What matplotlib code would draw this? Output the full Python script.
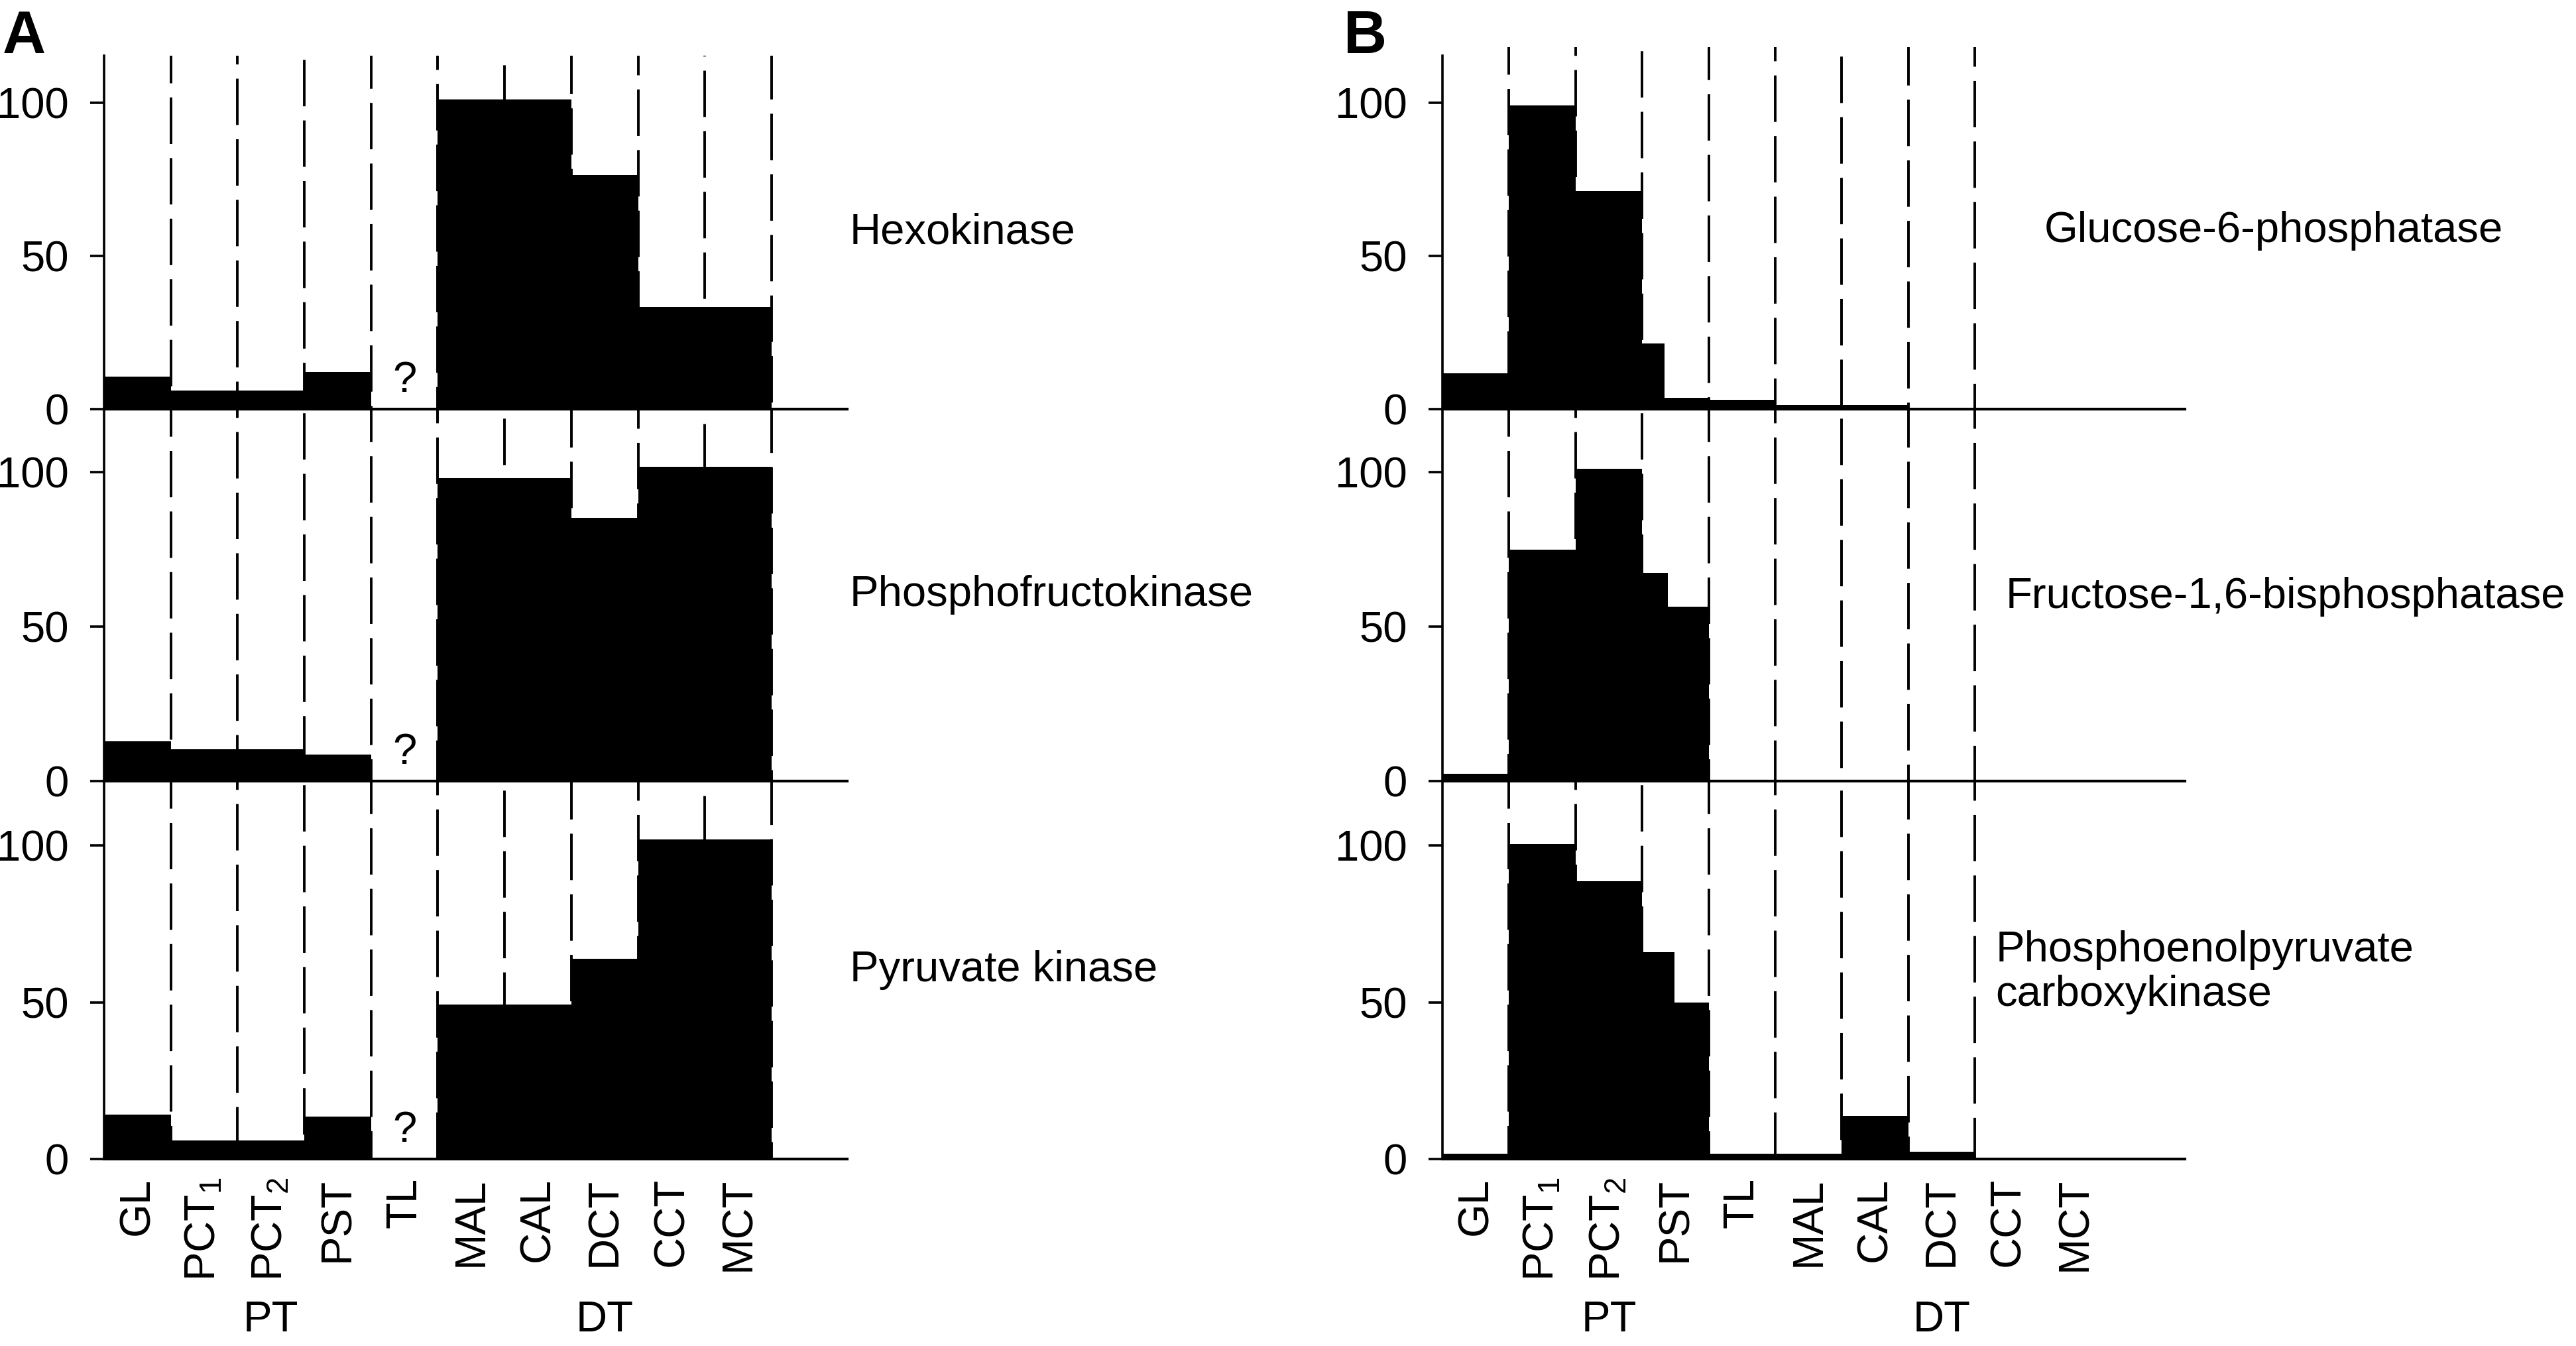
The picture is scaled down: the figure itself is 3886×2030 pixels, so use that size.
import matplotlib
matplotlib.use("Agg")
import matplotlib.pyplot as plt
from matplotlib.transforms import blended_transform_factory

plt.rcParams["font.family"] = ["Liberation Sans", "DejaVu Sans"]
plt.rcParams["mathtext.fontset"] = "custom"
plt.rcParams["mathtext.rm"] = "Liberation Sans"
plt.rcParams["mathtext.it"] = "Liberation Sans:italic"

# ---- data -----------------------------------------------------------------
segments = ["GL", "PCT1", "PCT2", "PST", "TL", "MAL", "CAL", "DCT", "CCT", "MCT"]
tick_labels = ["GL", r"$\mathregular{PCT_1}$", r"$\mathregular{PCT_2}$", "PST", "TL",
               "MAL", "CAL", "DCT", "CCT", "MCT"]
groups = [("PT", 1, 4), ("DT", 5, 10)]  # label, first segment, last segment + 1

# panel A: glycolytic enzymes (None = not determined, shown as "?")
hexokinase = [10.5, 5.9, 5.9, 12.1, None, 101, 101, 76.4, 33.2, 33.2]
phosphofructokinase = [12.7, 10.2, 10.2, 8.5, None, 98.1, 98.1, 85.2, 101.8, 101.8]
pyruvate_kinase = [14.2, 5.9, 5.9, 13.6, None, 49.2, 49.2, 63.8, 102, 102]

# panel B: gluconeogenic enzymes (tuple = two levels within one segment)
glucose_6_phosphatase = [11.6, 99.0, 71.2, (21.3, 3.6), 2.9, 1.3, 1.3, 0, 0, 0]
fructose_bisphosphatase = [2.2, 74.9, 101.1, (67.4, 56.4), 0, 0, 0, 0, 0, 0]
pepck = [1.75, 100.4, 88.5, (66.0, 50.0), 1.75, 1.75, 13.7, 2.3, 0, 0]
pst_split = [0.34, 0.39, 0.485]  # fraction of PST with the first level

names_a = ["Hexokinase", "Phosphofructokinase", "Pyruvate kinase"]
names_b = ["Glucose-6-phosphatase", "Fructose-1,6-bisphosphatase",
           "Phosphoenolpyruvate\ncarboxykinase"]

# ---- layout (pixels) ------------------------------------------------------
W, H = 3887, 2030
FS = 47
fig = plt.figure(figsize=(W / 100, H / 100), dpi=100)

rows_a = [(84, 616.7, 4.62), (616.7, 1177.5, 4.65), (1177.5, 1748, 4.73)]
rows_b = [(71, 616.7, 4.62), (616.7, 1177.5, 4.65), (1177.5, 1748, 4.73)]


def make_axes(x0, x1, seg_px, top, bottom, ppu):
    ax = fig.add_axes([x0 / W, 1 - bottom / H, (x1 - x0) / W, (bottom - top) / H])
    ax.set_xlim(0, (x1 - x0) / seg_px)
    ax.set_ylim(0, (bottom - top) / ppu)
    for s in ("top", "right"):
        ax.spines[s].set_visible(False)
    ax.spines["left"].set_linewidth(2.6)
    ax.spines["bottom"].set_linewidth(3)
    ax.set_yticks([0, 50, 100])
    ax.tick_params(axis="y", length=15, width=2.6, pad=23, labelsize=FS)
    ax.tick_params(axis="x", length=0, pad=20, labelsize=FS)
    ax.patch.set_alpha(0)
    return ax


def draw_row(ax, vals, split, n_div, last):
    top = ax.get_ylim()[1]
    for b in range(1, n_div + 1):
        off = (b * 7.3) % 24
        ax.plot([b, b], [top, 0], color="black", lw=2.8,
                ls=(off, (18, 5.5)), zorder=1, solid_capstyle="butt")
    for i, v in enumerate(vals):
        if v is None:
            ax.text(i + 0.5, 5.5, "?", ha="center", va="baseline", fontsize=FS)
        elif isinstance(v, tuple):
            ax.bar(i, v[0], width=split, align="edge", color="black", lw=0, zorder=2)
            ax.bar(i + split, v[1], width=1 - split, align="edge", color="black",
                   lw=0, zorder=2)
        elif v > 0:
            ax.bar(i, v, width=1, align="edge", color="black", lw=0, zorder=2)
    ax.set_xticks([i + 0.5 for i in range(len(segments))])
    if last:
        ax.set_xticklabels(tick_labels, rotation=90)
        tr = blended_transform_factory(ax.transData, fig.transFigure)
        for lab, a, b in groups:
            ax.text((a + b) / 2, 1 - 2008 / H, lab, ha="center", va="baseline",
                    fontsize=FS, transform=tr)
    else:
        ax.set_xticklabels([])


# panel A
data_a = [hexokinase, phosphofructokinase, pyruvate_kinase]
label_pos_a = [(11.17, 57.7), (11.17, 60.3), (11.17, 60.2)]
for r, (top, bottom, ppu) in enumerate(rows_a):
    ax = make_axes(157, 1278, 100.7, top, bottom, ppu)
    draw_row(ax, data_a[r], None, 10, r == 2)
    ax.text(*label_pos_a[r], names_a[r], ha="left", va="center", fontsize=FS)

# panel B
data_b = [glucose_6_phosphatase, fructose_bisphosphatase, pepck]
label_pos_b = [(9.04, 58.2), (8.46, 59.6), (8.31, 59.5)]
for r, (top, bottom, ppu) in enumerate(rows_b):
    ax = make_axes(2176, 3296, 100.4, top, bottom, ppu)
    if r == 0:
        ax.spines["left"].set_bounds(0, (616.7 - 84) / ppu)
    draw_row(ax, data_b[r], pst_split[r], 8, r == 2)
    ax.text(*label_pos_b[r], names_b[r], ha="left", va="center", fontsize=FS,
            linespacing=1.15)

fig.text(4 / W, 1 - 14 / H, "A", fontsize=65, fontweight="bold", ha="left", va="top")
fig.text(2027 / W, 1 - 14 / H, "B", fontsize=65, fontweight="bold", ha="left", va="top")

fig.savefig("out.png", dpi=100)
